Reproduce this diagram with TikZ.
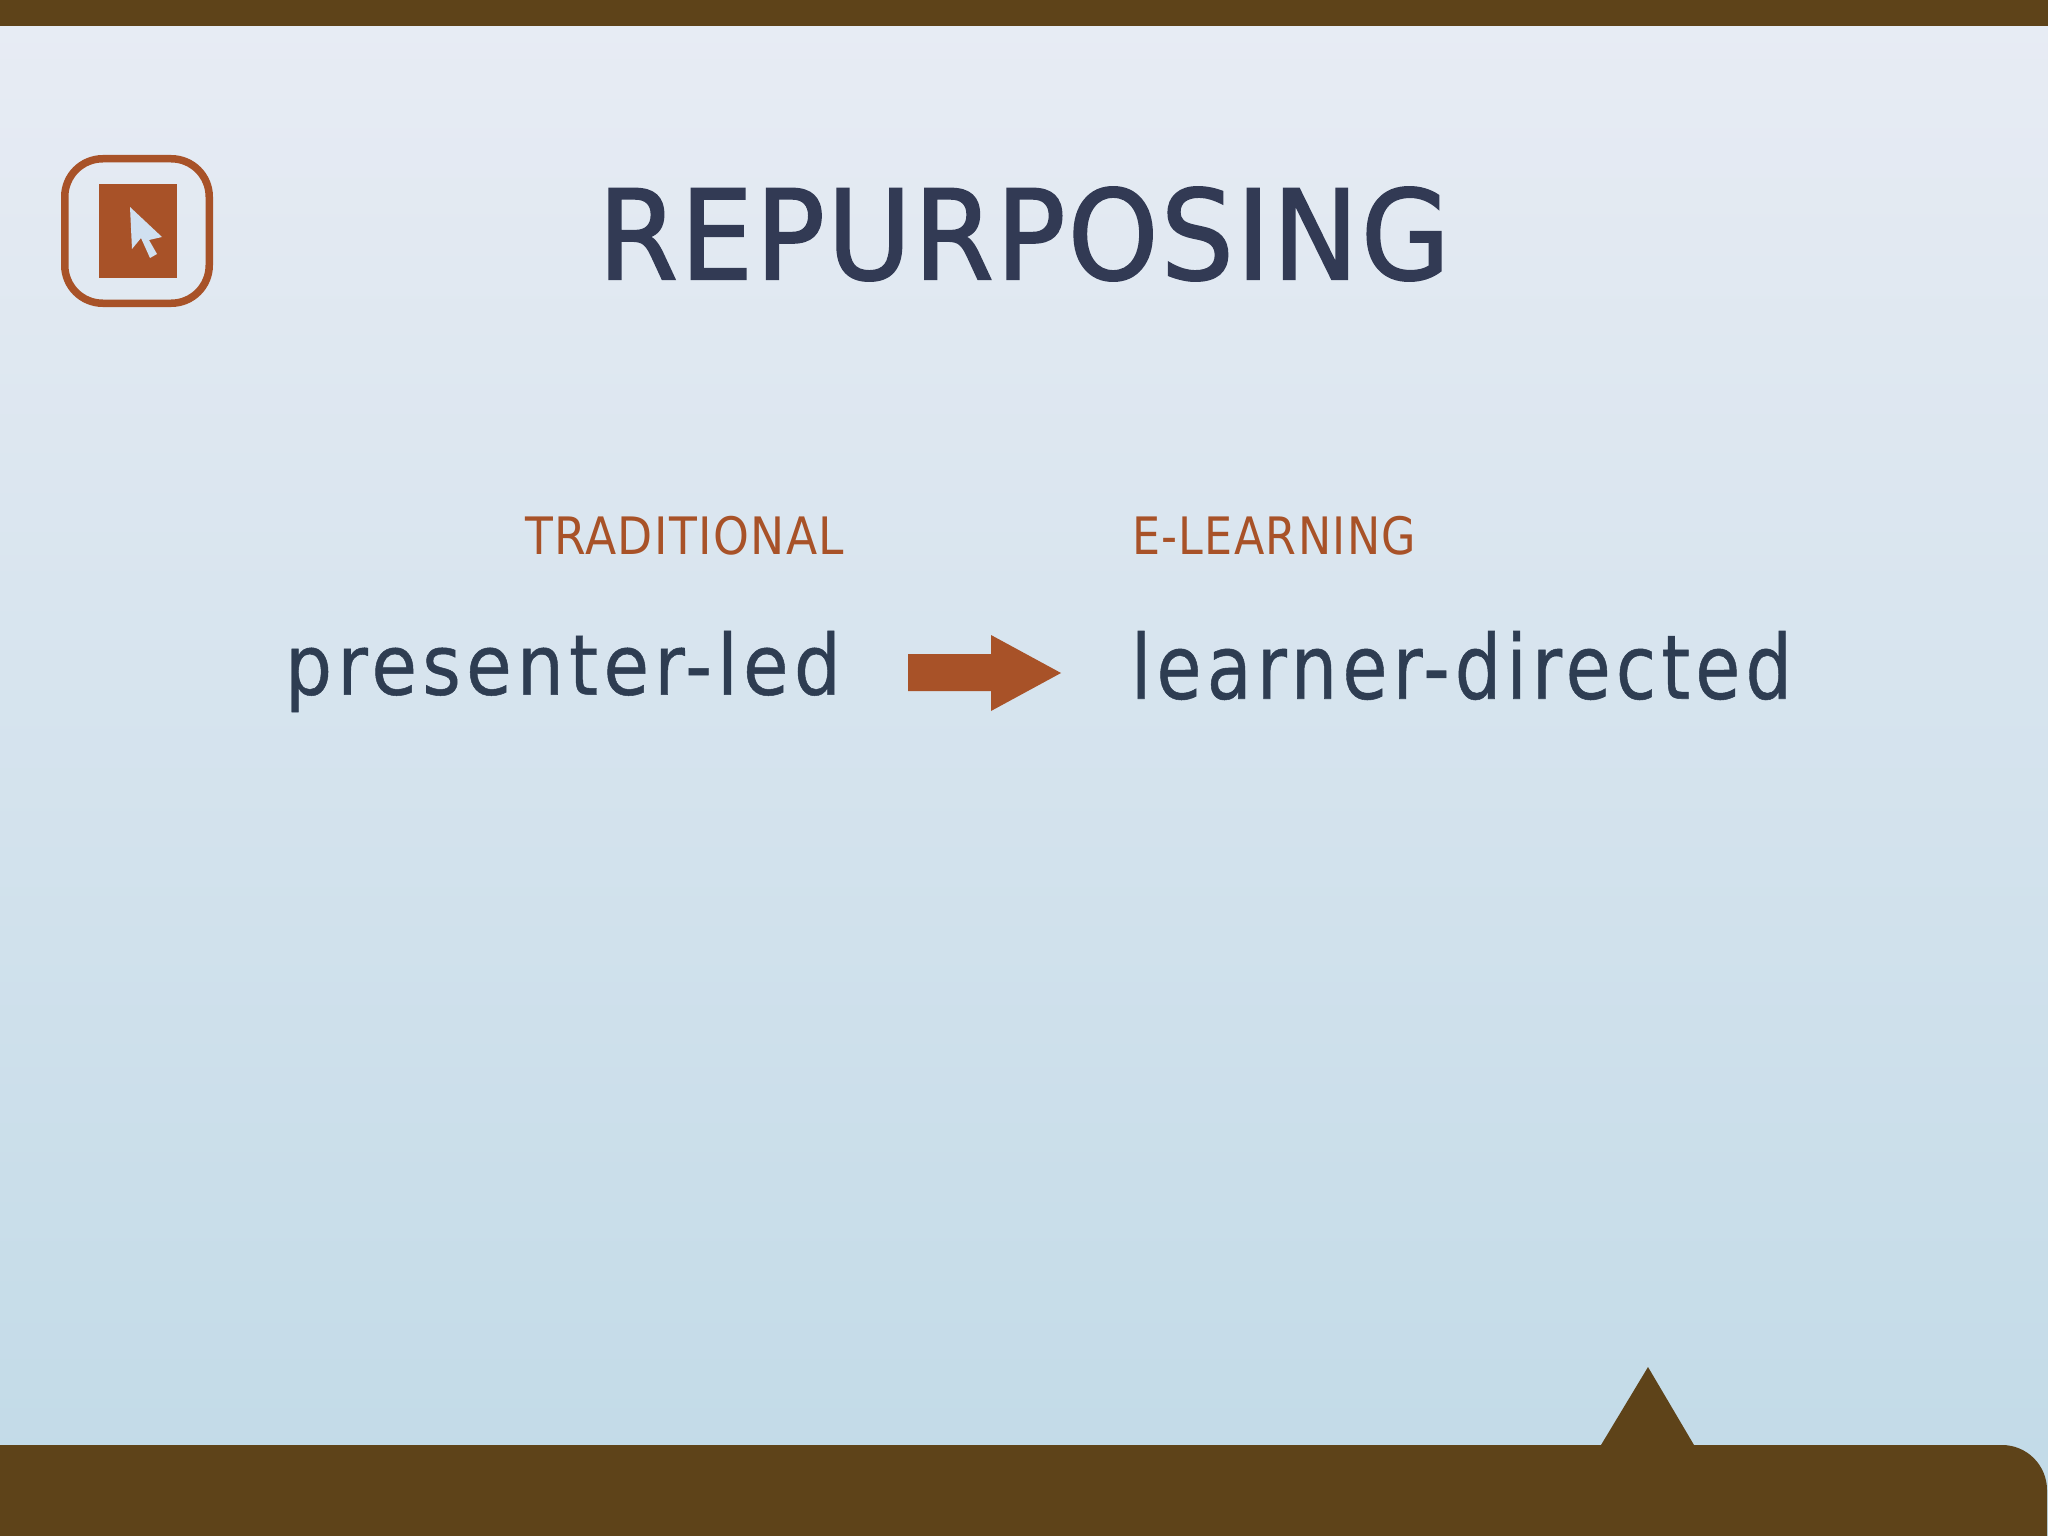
\documentclass[tikz,border=0pt]{standalone}
\usepackage{fontspec}
\usepackage{graphicx}
\setmainfont{DejaVu Sans}
\newfontfamily\titlefont[FakeBold=1.6,LetterSpace=2]{DejaVu Sans}
\newfontfamily\bodyfont[FakeBold=0.6,LetterSpace=7]{DejaVu Sans}
\newfontfamily\labelfont[LetterSpace=3]{DejaVu Sans}
\definecolor{barbrown}{RGB}{94,67,25}
\definecolor{rust}{RGB}{168,82,40}
\definecolor{inktitle}{RGB}{50,58,84}
\definecolor{inkbody}{RGB}{46,61,82}
\definecolor{bgtop}{RGB}{232,236,244}
\definecolor{bgmid}{RGB}{212,226,238}
\definecolor{bgbot}{RGB}{193,218,231}
\definecolor{cursorfill}{RGB}{208,224,240}
\tikzset{
  txt/.style={inner sep=0pt,outer sep=0pt,anchor=north west,font=\fontsize{100}{120}\selectfont},
  band/.style={fill=barbrown,draw=none},
  rustfill/.style={fill=rust,draw=none}
}
\begin{document}
\begin{tikzpicture}[x=1pt,y=-1pt]
\useasboundingbox (0,0) rectangle (2048,1536);
\shade[top color=bgtop,middle color=bgmid,bottom color=bgbot,shading angle=0] (0,0) rectangle (2048,1536);
\fill[band] (0,0) rectangle (2048,26);
\fill[band] (0,1536) -- (0,1445) -- (1601,1445) -- (1648,1367) -- (1694,1445) -- (2002,1445)
  arc[start angle=90,end angle=0,x radius=45,y radius=-45] -- (2047,1536) -- cycle;
\draw[rust,line width=7.5pt,rounded corners=38pt] (64.75,158.75) rectangle (209.25,303.25);
\fill[rustfill] (99,184) rectangle (177,278);
\fill[cursorfill] (130,207) -- (162,237) -- (149,240) -- (157,254) -- (150,258) -- (141,238) -- (132,249) -- cycle;
\node[txt,text=inktitle] (title) at (598,187) {\resizebox*{852pt}{94pt}{\titlefont REPURPOSING}};
\node[txt,text=rust] (trad) at (525,516) {\resizebox*{319pt}{39pt}{\labelfont TRADITIONAL}};
\node[txt,text=rust] (elearn) at (1132,516) {\resizebox*{284pt}{39pt}{\labelfont E-LEARNING}};
\node[txt,text=inkbody] (pres) at (285,631) {\resizebox*{556pt}{81pt}{\bodyfont presenter-led}};
\node[txt,text=inkbody] (learn) at (1131,631) {\resizebox*{661pt}{69pt}{\bodyfont learner-directed}};
\fill[rustfill] (908,654) -- (991,654) -- (991,635) -- (1061,673) -- (991,711) -- (991,691) -- (908,691) -- cycle;
\end{tikzpicture}
\end{document}
